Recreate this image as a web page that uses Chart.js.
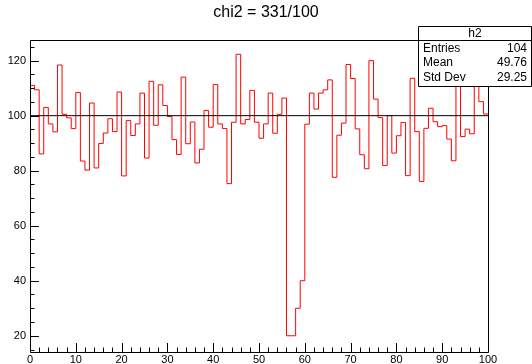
<!DOCTYPE html>
<html>
<head>
<meta charset="utf-8">
<script src="https://cdn.jsdelivr.net/npm/chart.js@4.4.1/dist/chart.umd.min.js"></script>
<style>
  html, body { margin: 0; padding: 0; background: #fff; }
  canvas { display: block; }
</style>
</head>
<body>
<canvas id="myChart" width="532" height="364"></canvas>
<script>
// histogram h2: 100 bins from 0 to 100
const binLow = 0;
const binHigh = 100;
const binValues = [
  111.0, 109.4, 86.1, 103.0, 97.0, 94.1, 118.4, 100.5, 99.2, 95.3,
  108.4, 83.5, 80.2, 104.6, 81.0, 89.9, 93.7, 98.9, 94.2, 108.6,
  78.1, 98.2, 92.8, 97.0, 108.2, 84.6, 112.5, 96.5, 111.2, 103.7,
  99.7, 91.3, 85.9, 114.0, 89.8, 97.7, 82.8, 87.8, 101.9, 95.8,
  111.3, 97.0, 95.3, 75.3, 97.6, 122.3, 97.0, 98.6, 109.2, 97.6,
  91.8, 97.0, 108.2, 93.6, 100.5, 106.4, 20.0, 20.0, 30.0, 40.0,
  96.9, 108.2, 102.4, 108.2, 109.4, 113.0, 77.6, 92.9, 97.3, 118.6,
  113.5, 95.2, 85.8, 80.7, 120.0, 106.0, 99.3, 81.9, 100.0, 86.4,
  92.7, 97.5, 78.2, 113.6, 94.2, 76.1, 95.4, 102.7, 97.8, 96.0,
  96.4, 91.5, 83.6, 118.0, 92.4, 95.1, 93.4, 116.0, 105.1, 100.6
];
// fitted constant (black line)
const fitLevel = [100, 100];

const xTicks = [0, 10, 20, 30, 40, 50, 60, 70, 80, 90, 100];
const yTicks = [20, 40, 60, 80, 100, 120];

const titleText = 'chi2 = 331/100';
const histName = 'h2';
const statLabels = ['Entries', 'Mean', 'Std Dev'];
const statValues = ['104', '49.76', '29.25'];

const binWidth = (binHigh - binLow) / binValues.length;
const histPoints = binValues.map((v, i) => ({ x: binLow + i * binWidth, y: v }));
histPoints.push({ x: binHigh, y: binValues[binValues.length - 1] });

const FONT = '"Liberation Sans", Arial, Helvetica, sans-serif';

// ROOT style frame, inner ticks, title and stats box
const rootStyle = {
  id: 'rootStyle',
  afterDraw(chart) {
    const ctx = chart.ctx;
    const a = chart.chartArea;
    const xs = chart.scales.x, ys = chart.scales.y;
    ctx.save();
    ctx.strokeStyle = '#000';
    ctx.lineWidth = 1;
    ctx.beginPath();
    ctx.rect(Math.round(a.left) + 0.5, Math.round(a.top) + 0.5,
             Math.round(a.right - a.left), Math.round(a.bottom - a.top));
    ctx.stroke();

    // x ticks (major every 10, minor every 2)
    ctx.beginPath();
    for (let v = binLow; v <= binHigh + 0.001; v += 2) {
      const px = Math.round(xs.getPixelForValue(v)) + 0.5;
      const len = xTicks.includes(v) ? 9 : 4.5;
      ctx.moveTo(px, a.bottom);
      ctx.lineTo(px, a.bottom - len);
    }
    // y ticks (major every 20, minor every 5)
    for (let v = 15; v <= ys.max; v += 5) {
      const py = Math.round(ys.getPixelForValue(v)) + 0.5;
      const len = yTicks.includes(v) ? 9 : 4.5;
      ctx.moveTo(a.left, py);
      ctx.lineTo(a.left + len, py);
    }
    ctx.stroke();

    // title
    ctx.fillStyle = '#000';
    ctx.font = '16px ' + FONT;
    ctx.textAlign = 'center';
    ctx.textBaseline = 'middle';
    ctx.fillText(titleText, chart.width / 2, 13);

    // stats box
    const bx0 = 418.5, by0 = 26.5, bx1 = 531.5, by1 = 86.5;
    ctx.fillStyle = '#fff';
    ctx.fillRect(bx0, by0, bx1 - bx0, by1 - by0);
    ctx.beginPath();
    ctx.rect(bx0, by0, bx1 - bx0, by1 - by0);
    ctx.moveTo(bx0, 40.5);
    ctx.lineTo(bx1, 40.5);
    ctx.stroke();
    ctx.fillStyle = '#000';
    ctx.font = '12px ' + FONT;
    ctx.textAlign = 'center';
    ctx.fillText(histName, (bx0 + bx1) / 2, 34);
    statLabels.forEach((lab, i) => {
      const y = 48.5 + i * 14.5;
      ctx.textAlign = 'left';
      ctx.fillText(lab, 423, y);
      ctx.textAlign = 'right';
      ctx.fillText(statValues[i], 527, y);
    });
    ctx.restore();
  }
};

new Chart(document.getElementById('myChart'), {
  type: 'line',
  data: {
    datasets: [
      {
        label: 'fit',
        data: [{ x: binLow, y: fitLevel[0] }, { x: binHigh, y: fitLevel[1] }],
        borderColor: '#000',
        borderWidth: 1,
        pointRadius: 0,
        order: 1
      },
      {
        label: histName,
        data: histPoints,
        stepped: true,
        borderColor: '#ff0000',
        borderWidth: 1,
        pointRadius: 0,
        fill: false,
        order: 2
      }
    ]
  },
  options: {
    responsive: false,
    animation: false,
    layout: { padding: { top: 40, right: 44, left: 0, bottom: 0 } },
    plugins: {
      legend: { display: false },
      tooltip: { enabled: false },
      title: { display: false }
    },
    scales: {
      x: {
        type: 'linear',
        min: binLow,
        max: binHigh,
        afterBuildTicks: (s) => { s.ticks = xTicks.map(v => ({ value: v })); },
        afterFit: (s) => { s.height = 12; },
        grid: { display: false, drawTicks: false },
        border: { display: false },
        ticks: {
          autoSkip: false,
          maxRotation: 0,
          padding: 1,
          color: '#000',
          font: { family: FONT, size: 11 }
        }
      },
      y: {
        type: 'linear',
        min: 14.1,
        max: 127.5,
        afterBuildTicks: (s) => { s.ticks = yTicks.map(v => ({ value: v })); },
        afterFit: (s) => { s.width = 30; },
        grid: { display: false, drawTicks: false },
        border: { display: false },
        ticks: {
          padding: 4,
          color: '#000',
          font: { family: FONT, size: 11 }
        }
      }
    }
  },
  plugins: [rootStyle]
});
</script>
</body>
</html>
